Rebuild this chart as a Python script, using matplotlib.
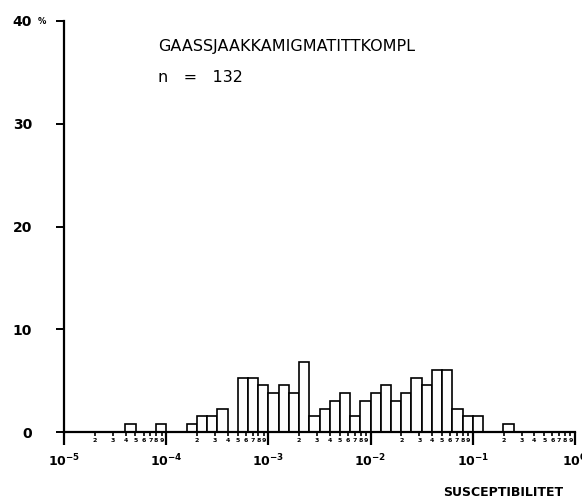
import numpy as np
import matplotlib
matplotlib.use('Agg')
from matplotlib import pyplot as plt
from matplotlib.ticker import FixedLocator, NullFormatter

# 0.1-decade bins, left edges as log10 exponents, with sample counts
bin_left = [-4.4, -4.1, -3.8, -3.7, -3.6, -3.5,
            -3.3, -3.2, -3.1, -3.0, -2.9, -2.8, -2.7, -2.6, -2.5, -2.4,
            -2.3, -2.2, -2.1, -2.0, -1.9, -1.8, -1.7, -1.6, -1.5, -1.4,
            -1.3, -1.2, -1.1, -1.0, -0.7]
counts = [1, 1, 1, 2, 2, 3,
          7, 7, 6, 5, 6, 5, 9, 2, 3, 4,
          5, 2, 4, 5, 6, 4, 5, 7, 6, 8,
          8, 3, 2, 2, 1]
n_total = 132
title = 'GAASSJAAKKAMIGMATITTKOMPL'
xlabel = 'SUSCEPTIBILITET'
y_ticks = [0, 10, 20, 30, 40]
decades = [-5, -4, -3, -2, -1, 0]

bin_left = np.array(bin_left)
pct = np.array(counts) / n_total * 100
left = 10.0 ** bin_left
width = 10.0 ** (bin_left + 0.1) - left

fig = plt.figure(figsize=(5.82, 5.03), dpi=100)
ax = fig.add_axes([64 / 582, 1 - 432 / 503, (575 - 64) / 582, (432 - 21) / 503])

ax.bar(left, pct, width=width, align='edge', facecolor='white',
       edgecolor='black', linewidth=1.2, zorder=2)

ax.set_xscale('log')
ax.set_xlim(1e-5, 1)
ax.set_ylim(0, 40)

for s in ['top', 'right']:
    ax.spines[s].set_visible(False)
ax.spines['left'].set_linewidth(1.6)
ax.spines['bottom'].set_linewidth(1.6)
ax.spines['bottom'].set_zorder(3)

# y axis
ax.set_yticks(y_ticks)
ax.set_yticklabels(['0', '10', '20', '30', '40'])
ax.tick_params(axis='y', direction='out', length=6, width=1.4, pad=17,
               labelsize=10)
for lab in ax.get_yticklabels():
    lab.set_fontweight('bold')
ax.text(-0.035, 40, '%', transform=ax.get_yaxis_transform(), fontsize=6,
        fontweight='bold', ha='right', va='center')

# x axis: decades plus tiny digits for 2..9
major = [10.0 ** d for d in decades]
ax.xaxis.set_major_locator(FixedLocator(major))
ax.set_xticklabels([r'$\mathbf{10^{%d}}$' % d for d in decades])
ax.tick_params(axis='x', which='major', direction='out', length=9, width=1.6,
               pad=6, labelsize=9)

minor = [m * 10.0 ** d for d in decades[:-1] for m in range(2, 10)]
ax.xaxis.set_minor_locator(FixedLocator(minor))
ax.xaxis.set_minor_formatter(NullFormatter())
ax.tick_params(axis='x', which='minor', direction='out', length=3, width=1.2)
for d in decades[:-1]:
    for m in range(2, 10):
        ax.text(m * 10.0 ** d, -0.6, str(m), fontsize=4.5, fontweight='bold',
                ha='center', va='top', transform=ax.transData, clip_on=False)

ax.text(158 / 582, 1 - 46 / 503, title, transform=fig.transFigure,
        fontsize=11.5, ha='left', va='center')
ax.text(158 / 582, 1 - 78 / 503, 'n   =   %d' % n_total,
        transform=fig.transFigure, fontsize=11.5, ha='left', va='center')
ax.text(503 / 582, 1 - 492 / 503, xlabel, transform=fig.transFigure,
        fontsize=9, fontweight='bold', ha='center', va='center')

fig.savefig('out.png', dpi=100)
